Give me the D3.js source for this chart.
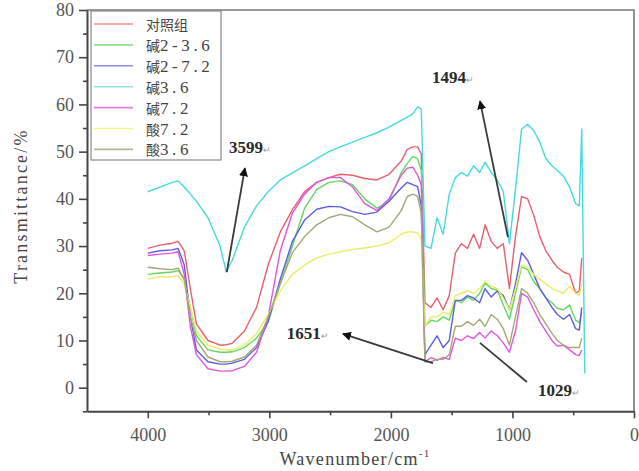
<!DOCTYPE html>
<html>
<head>
<meta charset="utf-8">
<script src="https://cdn.jsdelivr.net/npm/d3@7"></script>
<style>
  body { margin: 0; background: #fff; }
  svg { display: block; }
</style>
</head>
<body>
<svg id="chart" width="639" height="471"></svg>
<script>
// FTIR spectra, transmittance (%)
const wavenumbers = [4000, 3900, 3800, 3750, 3700, 3650, 3600, 3505, 3405, 3355, 3305, 3205, 3105, 3010, 2910, 2810,
  2710, 2610, 2510, 2415, 2315, 2215, 2115, 2015, 1915, 1865, 1820, 1780, 1750, 1720, 1670, 1620, 1570, 1520,
  1470, 1420, 1370, 1320, 1270, 1225, 1175, 1125, 1075, 1025, 975, 925, 875, 825, 775, 725, 675, 630, 580, 530,
  480, 450, 430, 405];

const tControl = [29.5, 30.2, 30.6, 31, 29, 21, 13.5, 10, 9, 9.1, 9.4, 12, 17, 26, 33, 37.7,
  41.5, 43.5, 44.5, 45.2, 45, 44.3, 44, 45.2, 48, 50.5, 51, 51, 49.5, 18, 17, 19, 16.5, 19.5,
  28.5, 30.5, 29.5, 32.5, 29.5, 34.5, 31, 29.5, 30.5, 21, 32, 40.5, 40, 36.5, 32, 29, 27, 25.5, 24.5, 24,
  20, 20.5, 27.5, null];
const tAlkali2_36 = [24, 24.3, 24.5, 24.8, 23, 17, 11, 8, 7.5, 7.5, 7.6, 8.5, 10.5, 14, 22, 30,
  38, 42, 43.5, 43.8, 43, 40, 38, 39.5, 45.5, 47.5, 49, 48.5, 46, 13, 14.3, 14, 15, 14.3,
  18.5, 18, 19.2, 18.5, 20, 22.2, 21, 20.7, 17.5, 14.5, 20, 25.6, 25, 22.5, 21, 19, 18, 16.8, 16.5, 17.5,
  14.3, 13.8, 16, null];
const tAlkali2_72 = [28.5, 29, 29.2, 29.5, 26, 15, 8, 5.5, 5, 5, 5.2, 6, 8.5, 14, 23, 31,
  35.5, 37.8, 38.4, 38.3, 37.3, 36.7, 37.2, 39.5, 42.3, 43.5, 43, 42.6, 38.5, 7, 9, 11, 8.5, 10,
  18.5, 18.5, 19.5, 19, 18, 21, 19.2, 20.5, 19.5, 16.5, 22, 28.6, 27, 24, 21, 19, 17, 15.5, 14.5, 15.5,
  12.5, 12.2, 17, null];
const tAlkali36 = [41.5, 42.5, 43.5, 43.8, 42.5, 41, 39.5, 36, 30, 24.5, 27, 34, 38.5, 41.5, 44, 45.5,
  47, 48.5, 50, 51, 52, 53, 54, 55.2, 56.6, 57.3, 58, 59.5, 59, 30, 29.5, 36, 32.5, 41,
  44.5, 45.6, 44.8, 47, 45.6, 47.8, 45.6, 44, 41.5, 30.5, 42, 54.8, 55.8, 54.5, 52, 48.5, 47, 46, 44.8, 42.5,
  39, 38.5, 54.8, 3];
const tAlkali72 = [28, 28.3, 28.5, 28.8, 24, 13, 7, 4, 3.5, 3.5, 3.6, 4.5, 7.5, 15, 29, 37,
  41, 43.5, 44.5, 44.5, 42.5, 39, 37.5, 40, 45, 46.5, 46.7, 45, 43, 5.5, 6.4, 5.8, 6.4, 6,
  10.5, 10, 11, 10.4, 11.7, 10.5, 12, 11, 9.5, 7.5, 12, 20, 19.2, 16.5, 14, 12, 10, 8.8, 9, 8,
  7, 6.8, 8, null];
const tAcid72 = [23, 23.5, 23.5, 23.8, 22, 17, 12, 9, 8.2, 8, 8, 9, 11.5, 15.5, 20.5, 24,
  26, 27.5, 28.3, 28.8, 29.3, 29.6, 30, 30.7, 32.5, 33, 33, 32.8, 31.5, 13, 15, 15, 16, 15.5,
  19.5, 20, 20.5, 20, 21, 22.5, 21.5, 21, 19, 16.5, 21, 26, 25.5, 24, 23, 22, 21, 20.5, 20, 21.5,
  20, 19.5, 22, null];
const tAcid36 = [25.5, 25.2, 25, 25.3, 23, 15, 10, 6.5, 5.5, 5.5, 5.6, 6.5, 9, 15, 22, 28.6,
  32, 34.5, 36, 36.7, 36.2, 34.5, 33, 34, 37.5, 40.5, 41, 40.5, 37, 5.5, 5.5, 6, 6, 7,
  13, 13, 14, 13.2, 14.5, 13, 15.5, 14.5, 12.5, 9, 15, 21, 20, 18, 15.5, 13.5, 11.5, 10, 9, 8.5,
  8.5, 8.5, 10.5, null];

const seriesNames = ['对照组', '碱2-3.6', '碱2-7.2', '碱3.6', '碱7.2', '酸7.2', '酸3.6'];
const seriesValues = [tControl, tAlkali2_36, tAlkali2_72, tAlkali36, tAlkali72, tAcid72, tAcid36];

const xMajorTicks = [4000, 3000, 2000, 1000, 0];
const xMinorTicks = [3500, 2500, 1500, 500];
const yMajorTicks = [0, 10, 20, 30, 40, 50, 60, 70, 80];
const yMinorTicks = [-5, 5, 15, 25, 35, 45, 55, 65, 75];

// peak labels with arrow head / tail and label anchor, in data units
const peakLabels = ['3599', '1651', '1494', '1029'];
const arrowHeads = [[3201, 46.5], [2395, 11.4], [1267, 60.7], [881, 1.2]];
const arrowTails = [[3350, 24.5], [1654, 5.2], [1037, 31.9], [1267, 9.5]];
const labelPos = [[3160, 49.7], [2683, 10.3], [1490, 64.5], [617, -1.8]];

const lineColors = ['#e8606c', '#62d862', '#5c5ce4', '#45dbe0', '#e056e0', '#ecec66', '#a6a676'];
const legendColors = ['#f08c8c', '#90e090', '#8c8ce6', '#8ee4e4', '#e67ce6', '#f2f290', '#b8b88c'];

const svg = d3.select('#chart');
const x = d3.scaleLinear().domain([4500, 0]).range([87, 634]);
const y = d3.scaleLinear().domain([-5, 80]).range([411.3, 10]);

const serif = '"Liberation Serif", "Times New Roman", serif';
const cjk = '"Noto Sans CJK SC", sans-serif';

// frame (top + right)
svg.append('path')
  .attr('d', `M${x(4500)},${y(80)}H${x(0)}V${y(-5)}`)
  .attr('fill', 'none')
  .attr('stroke', '#777')
  .attr('stroke-width', 1.6);

// spectra
const line = d3.line()
  .defined(d => d[1] != null)
  .x(d => x(d[0]))
  .y(d => y(d[1]));

seriesValues.forEach((vals, i) => {
  svg.append('path')
    .datum(wavenumbers.map((w, k) => [w, vals[k]]))
    .attr('fill', 'none')
    .attr('stroke', lineColors[i])
    .attr('stroke-width', 1.4)
    .attr('stroke-linejoin', 'round')
    .attr('d', line);
});

// axes
function styleAxis(g, keepDomain) {
  g.selectAll('.domain').attr('stroke', '#444').attr('stroke-width', 2);
  if (!keepDomain) g.select('.domain').remove();
  g.selectAll('.tick line').attr('stroke', '#444').attr('stroke-width', 1.6);
  g.selectAll('text')
    .attr('fill', '#555')
    .attr('font-family', serif)
    .attr('font-size', '18px');
}

svg.append('g')
  .attr('transform', `translate(0,${y(-5)})`)
  .call(d3.axisBottom(x).tickValues(xMinorTicks).tickSize(4).tickFormat(''))
  .call(g => styleAxis(g, false));
svg.append('g')
  .attr('transform', `translate(0,${y(-5)})`)
  .call(d3.axisBottom(x).tickValues(xMajorTicks).tickSize(7).tickPadding(10)
    .tickSizeOuter(0).tickFormat(d3.format('d')))
  .call(g => styleAxis(g, true));

svg.append('g')
  .attr('transform', `translate(${x(4500)},0)`)
  .call(d3.axisLeft(y).tickValues(yMinorTicks).tickSize(4).tickFormat(''))
  .call(g => styleAxis(g, false));
svg.append('g')
  .attr('transform', `translate(${x(4500)},0)`)
  .call(d3.axisLeft(y).tickValues(yMajorTicks).tickSize(8).tickPadding(5).tickSizeOuter(0))
  .call(g => styleAxis(g, true));

// axis titles
const xt = svg.append('text')
  .attr('x', 355).attr('y', 465)
  .attr('text-anchor', 'middle')
  .attr('fill', '#444')
  .attr('font-family', serif)
  .attr('font-size', '18px')
  .attr('letter-spacing', '1.3px');
xt.append('tspan').text('Wavenumber/cm');
xt.append('tspan').attr('dy', -8).attr('font-size', '11px').text('-1');

svg.append('text')
  .attr('transform', 'translate(27,206) rotate(-90)')
  .attr('text-anchor', 'middle')
  .attr('fill', '#444')
  .attr('font-family', serif)
  .attr('font-size', '18px')
  .attr('letter-spacing', '2.2px')
  .text('Transmittance/%');

// legend
const legend = svg.append('g');
legend.append('rect')
  .attr('x', 91).attr('y', 11)
  .attr('width', 130).attr('height', 149)
  .attr('fill', '#fff')
  .attr('stroke', '#888')
  .attr('stroke-width', 1.2);

seriesNames.forEach((name, i) => {
  const cy = 24 + i * 20.9;
  legend.append('line')
    .attr('x1', 94).attr('x2', 133)
    .attr('y1', cy).attr('y2', cy)
    .attr('stroke', legendColors[i])
    .attr('stroke-width', 1.6);
  const t = legend.append('text')
    .attr('x', 146).attr('y', cy + 6)
    .attr('fill', '#444');
  const m = name.match(/^([^\x00-\x7f]+)(.*)$/);
  t.append('tspan')
    .attr('font-family', cjk)
    .attr('font-size', '14px')
    .text(m[1]);
  if (m[2]) {
    t.append('tspan')
      .attr('font-family', serif)
      .attr('font-size', '17px')
      .attr('letter-spacing', '3.6px')
      .text(m[2]);
  }
});

// peak annotations
svg.append('defs').append('marker')
  .attr('id', 'head')
  .attr('viewBox', '0 0 10 10')
  .attr('refX', 9).attr('refY', 5)
  .attr('markerWidth', 5).attr('markerHeight', 5)
  .attr('markerUnits', 'strokeWidth')
  .attr('orient', 'auto')
  .append('path')
  .attr('d', 'M0,0L10,5L0,10Z')
  .attr('fill', '#111');

peakLabels.forEach((label, i) => {
  const [hw, ht] = arrowHeads[i];
  const [tw, tt] = arrowTails[i];
  svg.append('line')
    .attr('x1', x(tw)).attr('y1', y(tt))
    .attr('x2', x(hw)).attr('y2', y(ht))
    .attr('stroke', '#3a3a3a')
    .attr('stroke-width', 1.8)
    .attr('marker-end', i === 3 ? null : 'url(#head)');

  const [lw, lt] = labelPos[i];
  const t = svg.append('text')
    .attr('x', x(lw)).attr('y', y(lt))
    .attr('text-anchor', 'middle')
    .attr('fill', '#2a2a2a')
    .attr('font-family', serif)
    .attr('font-weight', 'bold')
    .attr('font-size', '17px');
  t.append('tspan').text(label);
  t.append('tspan')
    .attr('fill', '#999')
    .attr('font-weight', 'normal')
    .attr('font-size', '9px')
    .text('\u21b5');
});
</script>
</body>
</html>
